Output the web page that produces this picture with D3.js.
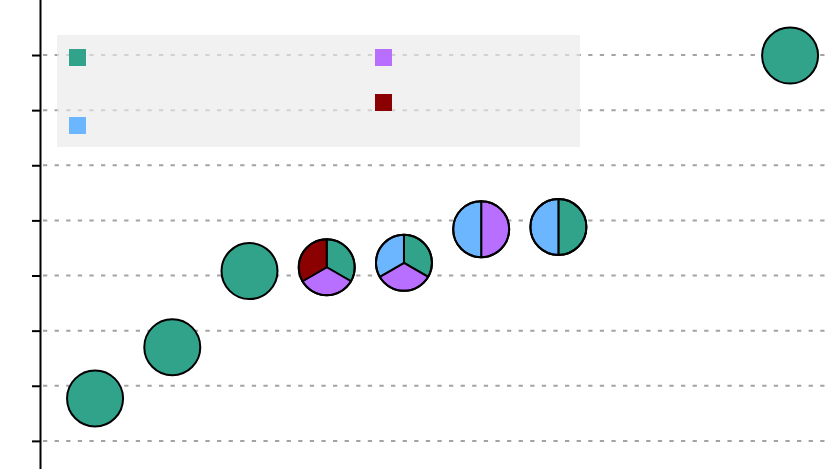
<!DOCTYPE html>
<html>
<head>
<meta charset="utf-8">
<script src="https://cdn.jsdelivr.net/npm/d3@7"></script>
<style>
  html, body { margin: 0; padding: 0; background: #fff; }
  svg { display: block; }
</style>
</head>
<body>
<div id="chart"></div>
<script>
// ---- data ----
const seriesNames = ["A", "B", "C", "D"];
const seriesColors = ["#31a38b", "#b86eff", "#8b0000", "#6cb6ff"];
const xValues = [0, 1, 2, 3, 4, 5, 6, 9];
const yValues = [0.77, 1.70, 3.08, 3.15, 3.23, 3.84, 3.88, 6.99];
// which series each point's pie is made of (equal shares)
const pointSeries = [
  ["A"], ["A"], ["A"],
  ["A", "B", "C"],
  ["A", "B", "D"],
  ["B", "D"],
  ["A", "D"],
  ["A"]
];
const yTicks = [0, 1, 2, 3, 4, 5, 6, 7];
const legendLabels = ["", "", "", ""];

// ---- layout ----
const W = 831, H = 469;
const svg = d3.select("#chart").append("svg").attr("width", W).attr("height", H);

const x = d3.scaleLinear().domain([-0.7, 9.53]).range([41, 831]);
const y = d3.scaleLinear().domain([-0.51, 7.998]).range([469, 0]);
const color = d3.scaleOrdinal().domain(seriesNames).range(seriesColors);

// gridlines
svg.append("g").selectAll("line").data(yTicks).join("line")
  .attr("x1", 43).attr("x2", W)
  .attr("y1", d => y(d)).attr("y2", d => y(d))
  .attr("stroke", "#a3a3a3").attr("stroke-width", 2)
  .attr("stroke-dasharray", "4.3,7.3");

// y axis
const yAxis = d3.axisLeft(y).tickValues(yTicks).tickSize(9).tickFormat(() => "");
const ga = svg.append("g").attr("transform", "translate(41,0)").call(yAxis);
ga.select(".domain").attr("d", `M-0.5,0V${H}`).attr("stroke", "#000").attr("stroke-width", 2);
ga.selectAll(".tick line").attr("stroke", "#000").attr("stroke-width", 2);

// legend box
const legend = svg.append("g");
legend.append("rect")
  .attr("x", 57).attr("y", 35).attr("width", 523).attr("height", 112)
  .attr("fill", "rgb(233,233,233)").attr("fill-opacity", 0.66);
const legendPos = { A: [69, 49], B: [375, 49], C: [375, 94], D: [69, 117] };
seriesNames.forEach((s, i) => {
  const [lx, ly] = legendPos[s];
  legend.append("rect").attr("x", lx).attr("y", ly).attr("width", 17).attr("height", 17)
    .attr("fill", color(s));
  legend.append("text").attr("x", lx + 24).attr("y", ly + 13)
    .attr("font-family", "DejaVu Sans").attr("font-size", 13).text(legendLabels[i]);
});

// pie markers
const R = 28;
const pie = d3.pie().sort(null).value(() => 1);
const arc = d3.arc().innerRadius(0).outerRadius(R);
const pts = svg.append("g");
xValues.forEach((xv, i) => {
  const g = pts.append("g").attr("transform", `translate(${x(xv)},${y(yValues[i])})`);
  const parts = pointSeries[i];
  if (parts.length === 1) {
    g.append("circle").attr("r", R).attr("fill", color(parts[0]))
      .attr("stroke", "#000").attr("stroke-width", 2);
  } else {
    g.selectAll("path").data(pie(parts)).join("path")
      .attr("d", arc).attr("fill", d => color(d.data))
      .attr("stroke", "#000").attr("stroke-width", 2).attr("stroke-linejoin", "round");
    g.append("circle").attr("r", R).attr("fill", "none")
      .attr("stroke", "#000").attr("stroke-width", 2);
  }
});
</script>
</body>
</html>
